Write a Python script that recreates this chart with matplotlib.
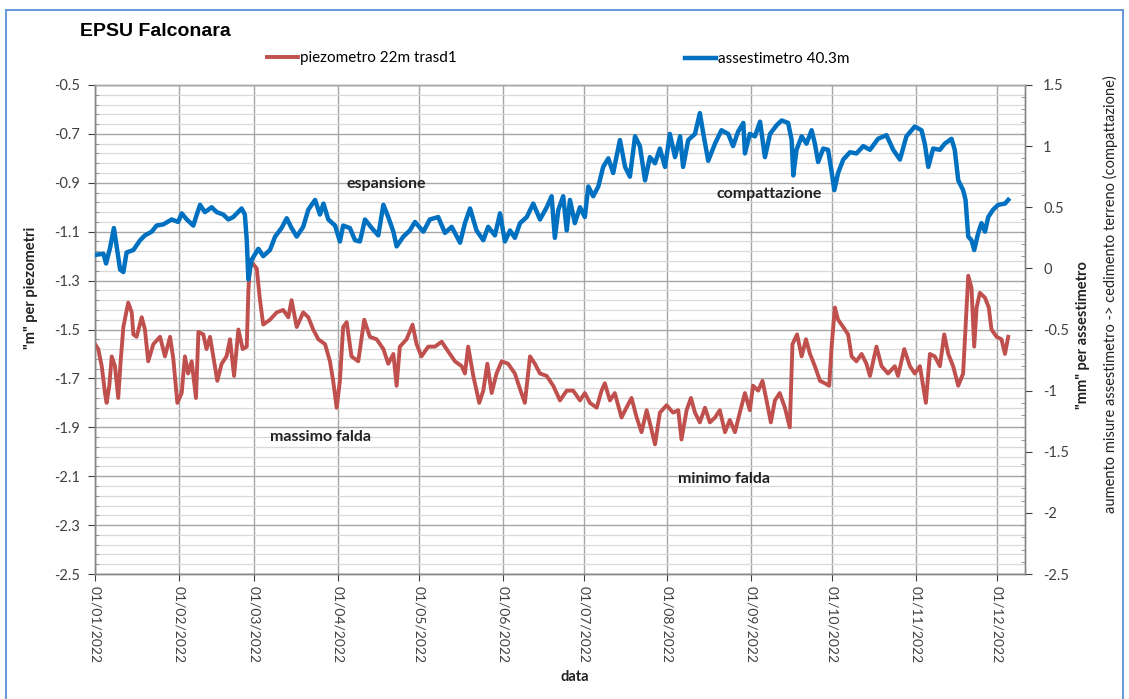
import numpy as np
import matplotlib
matplotlib.use("Agg")
import matplotlib.pyplot as plt
import matplotlib.dates as mdates
from matplotlib.ticker import FixedLocator, MultipleLocator, FuncFormatter
from matplotlib.patches import Rectangle

plt.rcParams['font.family'] = ['Lato', 'DejaVu Sans']

# assestimetro 40.3m, mm (secondary axis); days counted from 01/01/2022
blue_day = [
    0, 3.1, 4.1, 5.6, 7.0, 8.0, 9.3, 10.5, 11.7, 14.2, 16.7, 18.5, 21.0, 22.8, 25.3, 28.4,
    30.8, 32.1, 34.0, 36.4, 37.7, 38.9, 40.7, 43.2, 45.1, 47.5, 49.4, 51.2, 54.3, 55.5, 56.2, 56.8, 58.0,
    60.5, 62.3, 64.8, 66.7, 69.1, 71.0, 72.8, 74.7, 77.1, 79.0, 81.5, 83.3, 84.6, 86.4, 88.9,
    90.7, 91.9, 94.4, 96.3, 98.1, 100.0, 102.5, 104.9, 106.8, 108.6, 110.5, 111.7, 114.2, 116.6, 118.5,
    121.6, 124.0, 127.1, 129.6, 132.1, 135.2, 137.0, 138.9, 141.3, 143.8, 145.6, 148.1,
    150.0, 151.8, 153.7, 155.5, 157.4, 159.9, 162.3, 164.8, 167.3, 169.1, 170.3, 171.6, 173.4, 174.7, 175.9, 177.7, 179.6,
    181.4, 182.7, 184.5, 186.4, 188.2, 190.1, 191.9, 194.4, 196.3, 198.1, 200.0, 201.8, 203.7, 205.5, 207.4, 209.2, 211.1,
    212.9, 214.8, 216.7, 217.8, 219.7, 222.2, 224.0, 225.3, 227.1, 229.6, 232.0, 234.5, 236.3, 238.2, 240.1, 240.7, 242.5,
    244.4, 246.3, 248.1, 250.0, 252.4, 254.3, 256.7, 258.0, 258.6, 259.8, 261.7, 263.5, 265.4, 266.6, 267.8, 269.7, 271.5, 272.8,
    273.8, 275.2, 277.1, 279.6, 282.0, 284.5, 287.0, 290.0, 293.1, 295.6, 298.1, 300.5, 303.6,
    306.1, 307.3, 308.6, 310.4, 312.9, 314.7, 317.2, 318.4, 319.7, 321.5, 322.4, 323.4, 324.6, 325.6, 327.1, 328.3,
    329.6, 330.8, 332.6, 334.5, 337.0, 338.2,
]
blue_mm = [
    0.11, 0.12, 0.04, 0.17, 0.33, 0.18, -0.01, -0.03, 0.13, 0.15, 0.23, 0.27, 0.30, 0.35, 0.36, 0.40,
    0.38, 0.45, 0.40, 0.35, 0.44, 0.52, 0.46, 0.50, 0.46, 0.44, 0.40, 0.42, 0.49, 0.44, 0.23, -0.09, 0.07,
    0.16, 0.10, 0.15, 0.26, 0.33, 0.41, 0.33, 0.26, 0.34, 0.48, 0.56, 0.44, 0.53, 0.40, 0.35,
    0.22, 0.35, 0.33, 0.23, 0.22, 0.40, 0.33, 0.27, 0.52, 0.42, 0.30, 0.18, 0.26, 0.31, 0.38,
    0.30, 0.40, 0.42, 0.29, 0.34, 0.21, 0.37, 0.49, 0.31, 0.23, 0.34, 0.27,
    0.45, 0.22, 0.31, 0.25, 0.37, 0.42, 0.53, 0.40, 0.50, 0.59, 0.25, 0.48, 0.59, 0.31, 0.56, 0.37, 0.50,
    0.42, 0.67, 0.59, 0.67, 0.83, 0.90, 0.78, 1.05, 0.83, 0.75, 1.08, 1.00, 0.72, 0.91, 0.86, 0.98, 0.83,
    1.10, 0.91, 1.08, 0.83, 1.05, 1.10, 1.27, 1.10, 0.88, 1.02, 1.13, 1.10, 1.00, 1.12, 1.19, 0.94, 1.10,
    1.08, 1.20, 0.91, 1.10, 1.17, 1.21, 1.19, 1.05, 0.76, 0.97, 1.08, 1.02, 1.13, 1.02, 0.87, 0.98, 0.97, 0.79,
    0.64, 0.78, 0.89, 0.95, 0.94, 1.00, 0.97, 1.06, 1.09, 0.97, 0.89, 1.08, 1.16,
    1.13, 1.02, 0.83, 0.98, 0.97, 1.02, 1.06, 0.97, 0.72, 0.64, 0.56, 0.26, 0.23, 0.15, 0.29, 0.37,
    0.30, 0.42, 0.48, 0.52, 0.53, 0.56,
]

# piezometro 22m trasd1, m (primary axis)
red_day = [
    0, 1.2, 2.5, 3.7, 4.3, 5.3, 6.2, 7.4, 8.6, 9.5, 10.5, 12.3, 13.6, 14.2, 15.4, 17.3, 18.5, 19.7, 21.6, 24.1, 25.9, 27.8, 29.0,
    30.5, 32.1, 33.3, 34.5, 35.8, 37.4, 38.3, 40.1, 41.3, 42.6, 44.1, 45.3, 46.9, 48.7, 50.0, 51.5, 53.1, 54.7, 56.2, 56.8, 57.5, 59.9,
    61.1, 62.3, 64.8, 67.3, 69.7, 71.6, 72.8, 74.7, 77.1, 79.0, 80.8, 82.7, 85.2, 87.0, 88.2, 89.5,
    90.7, 91.9, 93.2, 95.0, 97.5, 99.7, 101.8, 104.3, 106.8, 108.6, 110.5, 111.7, 112.9, 115.4, 117.6, 119.1,
    120.9, 123.4, 125.9, 128.4, 130.8, 133.3, 135.8, 137.0, 138.2, 140.1, 142.3, 143.8, 145.3, 146.9, 148.7,
    150.6, 153.0, 155.5, 157.6, 159.2, 161.1, 162.9, 164.8, 167.3, 169.7, 172.2, 174.7, 177.1, 179.6,
    181.4, 183.3, 185.8, 187.6, 188.8, 190.7, 192.5, 195.0, 196.8, 198.7, 200.6, 202.4, 204.3, 206.1, 207.4, 209.2, 211.7,
    214.1, 216.0, 217.2, 219.1, 220.7, 222.2, 224.0, 225.9, 227.7, 229.6, 231.4, 233.3, 235.1, 237.0, 238.8, 240.7, 242.5,
    243.7, 245.6, 247.2, 248.7, 250.3, 251.8, 253.6, 255.5, 257.3, 258.3, 260.0, 261.7, 263.3, 264.8, 266.6, 268.5, 270.3, 271.9,
    272.8, 274.0, 275.2, 277.1, 278.9, 280.2, 282.0, 283.9, 285.7, 287.0, 289.4, 291.3, 293.7, 296.2, 297.4, 299.7, 301.8,
    303.6, 305.5, 307.7, 309.2, 311.0, 312.9, 314.5, 316.0, 317.8, 319.7, 321.5, 323.4, 324.6, 325.6, 326.5, 327.7,
    329.6, 331.0, 332.0, 333.9, 335.7, 337.0, 338.2,
]
red_m = [
    -1.56, -1.58, -1.65, -1.76, -1.80, -1.73, -1.61, -1.65, -1.78, -1.63, -1.49, -1.39, -1.43, -1.52, -1.53, -1.45, -1.50, -1.63, -1.56, -1.53, -1.61, -1.53, -1.62,
    -1.80, -1.76, -1.61, -1.68, -1.63, -1.78, -1.51, -1.52, -1.58, -1.53, -1.63, -1.71, -1.64, -1.61, -1.54, -1.69, -1.50, -1.58, -1.57, -1.34, -1.22, -1.25,
    -1.38, -1.48, -1.46, -1.43, -1.42, -1.45, -1.38, -1.49, -1.43, -1.45, -1.50, -1.54, -1.56, -1.63, -1.71, -1.82,
    -1.71, -1.49, -1.47, -1.61, -1.63, -1.46, -1.53, -1.54, -1.58, -1.64, -1.60, -1.73, -1.57, -1.54, -1.48, -1.56,
    -1.61, -1.57, -1.57, -1.55, -1.59, -1.63, -1.65, -1.68, -1.57, -1.69, -1.80, -1.75, -1.64, -1.76, -1.68,
    -1.63, -1.64, -1.68, -1.75, -1.80, -1.61, -1.64, -1.68, -1.69, -1.73, -1.79, -1.75, -1.75, -1.79,
    -1.76, -1.80, -1.82, -1.75, -1.72, -1.79, -1.76, -1.86, -1.82, -1.78, -1.86, -1.92, -1.83, -1.91, -1.97, -1.84, -1.81,
    -1.84, -1.83, -1.95, -1.83, -1.78, -1.84, -1.88, -1.82, -1.88, -1.86, -1.83, -1.92, -1.87, -1.92, -1.84, -1.76, -1.83,
    -1.73, -1.75, -1.71, -1.79, -1.88, -1.79, -1.76, -1.82, -1.90, -1.56, -1.52, -1.61, -1.54, -1.60, -1.65, -1.71, -1.72, -1.73,
    -1.57, -1.41, -1.46, -1.49, -1.52, -1.61, -1.63, -1.60, -1.64, -1.69, -1.57, -1.65, -1.68, -1.65, -1.69, -1.58, -1.65,
    -1.68, -1.65, -1.80, -1.60, -1.61, -1.65, -1.52, -1.60, -1.65, -1.73, -1.68, -1.28, -1.33, -1.57, -1.41, -1.35,
    -1.37, -1.41, -1.50, -1.53, -1.54, -1.60, -1.53,
]

annotations = [
    ("espansione", 93.3, -0.905),
    ("compattazione", 230.0, -0.946),
    ("massimo falda", 64.8, -1.94),
    ("minimo falda", 215.9, -2.11),
]

start = np.datetime64('2022-01-01T00:00')


def to_dates(days):
    minutes = np.round(np.asarray(days) * 1440).astype('timedelta64[m]')
    return start + minutes


W, H = 1129, 699
fig = plt.figure(figsize=(W / 100, H / 100), dpi=100)
ax = fig.add_axes([95 / W, 1 - 574 / H, (1025 - 95) / W, (574 - 85) / H])
ax2 = ax.twinx()

red_col = '#C0504D'
blue_col = '#0070C0'
tick_col = '#404040'
text_col = '#222222'
major_grid = '#a6a6a6'
minor_grid = '#d9d9d9'

l1, = ax.plot(to_dates(red_day), red_m, color=red_col, lw=2.8, zorder=3,
              solid_joinstyle='round')
l2, = ax2.plot(to_dates(blue_day), blue_mm, color=blue_col, lw=3.2, zorder=3,
               solid_joinstyle='round')

# primary axis
ax.set_ylim(-2.5, -0.5)
ax.yaxis.set_major_locator(FixedLocator(np.round(np.arange(-2.5, -0.49, 0.2), 2)))
ax.yaxis.set_minor_locator(FixedLocator(np.round(np.arange(-2.5, -0.49, 0.04), 2)))
ax.yaxis.set_major_formatter(FuncFormatter(lambda v, p: '%g' % round(v, 2)))
ax.set_xlim(start, np.datetime64('2022-12-11T10:00'))
ax.xaxis.set_major_locator(mdates.MonthLocator())
ax.xaxis.set_major_formatter(mdates.DateFormatter('%d/%m/%Y'))
ax.tick_params(axis='x', which='major', rotation=-90, labelsize=10,
               colors=tick_col, length=5, pad=4)
ax.tick_params(axis='y', which='major', labelsize=10.5, colors=tick_col,
               direction='out', length=5, pad=6)
ax.tick_params(axis='y', which='minor', direction='in', length=3, colors='#868686')
for lab in ax.get_xticklabels():
    lab.set_verticalalignment('top')

ax.grid(True, which='minor', axis='y', color=minor_grid, lw=0.9)
ax.grid(True, which='major', axis='y', color=major_grid, lw=1.0)
ax.grid(True, which='major', axis='x', color=major_grid, lw=1.0)
ax.set_axisbelow(True)

# secondary axis
ax2.set_ylim(-2.5, 1.5)
ax2.yaxis.set_major_locator(MultipleLocator(0.5))
ax2.yaxis.set_minor_locator(MultipleLocator(0.1))
ax2.yaxis.set_major_formatter(FuncFormatter(lambda v, p: '%g' % round(v, 2)))
ax2.tick_params(axis='y', which='major', labelsize=10.5, colors=tick_col,
                direction='out', length=5, pad=8)
ax2.tick_params(axis='y', which='minor', direction='in', length=3, colors='#868686')

for a in (ax, ax2):
    for s in a.spines.values():
        s.set_color('#868686')
        s.set_linewidth(1.0)
    a.spines['top'].set_color(major_grid)

# axis titles
fig.text(31 / W, 1 - 288 / H, '"m" per piezometri', rotation=90,
         ha='center', va='center', fontsize=10.5, fontweight='bold', color=text_col)
fig.text(1083 / W, 1 - 335 / H, '"mm" per assestimetro', rotation=90,
         ha='center', va='center', fontsize=10.5, fontweight='bold', color=text_col)
fig.text(1110 / W, 1 - 294 / H,
         'aumento misure assestimetro -> cedimento terreno (compattazione)',
         rotation=90, ha='center', va='center', fontsize=10.5, color=text_col)
fig.text(575 / W, 1 - 677 / H, 'data', ha='center', va='center',
         fontsize=10.5, fontweight='bold', color=text_col)

for txt, d, v in annotations:
    ax.text(to_dates([d])[0], v, txt, ha='left', va='center', fontsize=11.5,
            fontweight='bold', color=text_col, zorder=5)

fig.text(80 / W, 1 - 32 / H, 'EPSU Falconara', ha='left', va='center',
         fontsize=14, fontweight='bold', family='Liberation Sans', color='black')

# legend entries, one above each half of the plot
leg_kw = dict(frameon=False, fontsize=11, handlelength=2.0, handletextpad=0.15,
              borderpad=0, borderaxespad=0, loc='center left')
fig.legend([l1], ['piezometro 22m trasd1'], bbox_to_anchor=(267 / W, 1 - 58 / H), **leg_kw)
fig.legend([l2], ['assestimetro 40.3m'], bbox_to_anchor=(685 / W, 1 - 59 / H), **leg_kw)

# chart frame
fig.patches.append(Rectangle((6 / W, -0.02), (1123 - 6) / W, 1 - 10 / H + 0.02,
                             transform=fig.transFigure, fill=False,
                             edgecolor='#6a9bd8', lw=1.5))

fig.savefig('out.png', dpi=100)
